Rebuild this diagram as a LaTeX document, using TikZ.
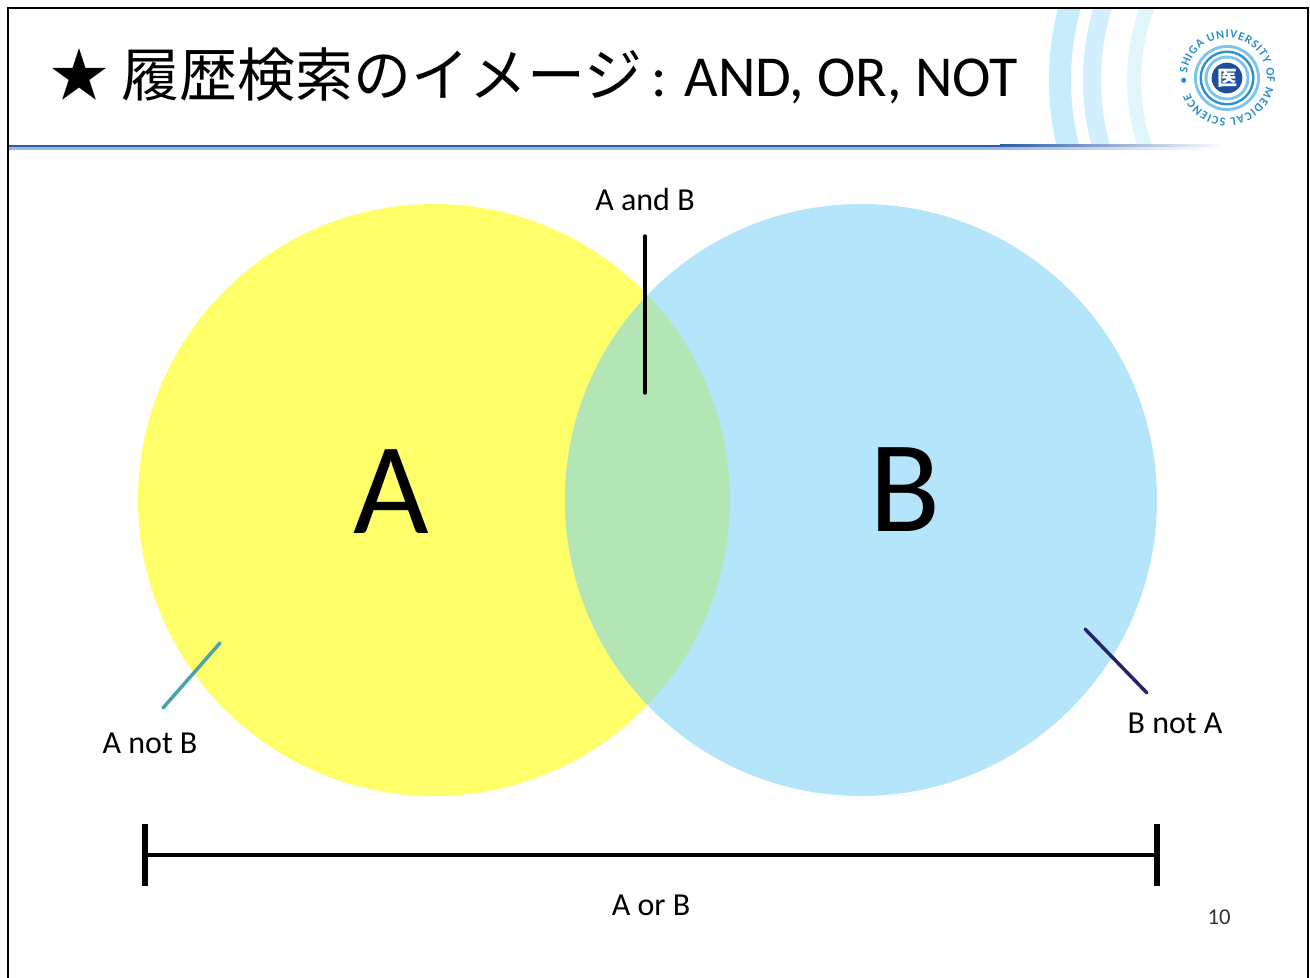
\documentclass[tikz,border=0pt]{standalone}
\usepackage{fontspec}
\setmainfont{Carlito}
\newfontfamily\jpfont{Noto Sans CJK JP}
\usepackage{tikz}
\usetikzlibrary{positioning,decorations.text}

\definecolor{setA}{HTML}{FFFF6A}
\definecolor{setB}{HTML}{B4E5FB}
\definecolor{setAB}{HTML}{B4E5B4}
\definecolor{hdrblue}{HTML}{2B5DA6}
\definecolor{hdrlight}{HTML}{9DB8DE}
\definecolor{leadA}{HTML}{4AA3AC}
\definecolor{leadB}{HTML}{23236E}
\definecolor{logoblue}{HTML}{2C8FD0}
\definecolor{logolight}{HTML}{7CC6EE}
\definecolor{logonavy}{HTML}{1D4F9C}

\begin{document}
\begin{tikzpicture}[x=0.75pt,y=-0.75pt,
	lbl/.style={font=\fontsize{24}{28}\selectfont,inner sep=0pt,anchor=base},
	big/.style={font=\fontsize{98}{110}\selectfont,inner sep=0pt,anchor=base},
	lead/.style={line width=2.6pt,line cap=round},
	tick/.style={line width=4.5pt}]
\useasboundingbox (0,0) rectangle (1310,978);

%put the header on top
\begin{scope}
	\clip (8,8) rectangle (1308,146);
	\foreach \r/\w/\c in {278/22/setB!75,246/18/setB!60,204/14/setB!40}{
		\draw[line width=\w*0.75pt,\c] (1338,80) circle[radius=\r];
	}
\end{scope}
\fill[hdrblue] (8,144.5) rectangle (1000,147);
\fill[hdrlight] (8,147) rectangle (1000,149.5);
\shade[left color=hdrblue,right color=white] (1000,144.5) rectangle (1225,147);
\shade[left color=hdrlight,right color=white] (1000,147) rectangle (1225,149.5);
\node[anchor=base west,inner sep=0pt,font=\fontsize{43.5}{48}\selectfont] (title) at (50,96)
	{{\jpfont ★ 履歴検索のイメージ}\,: AND, OR, NOT};

%put the logo on the right
\begin{scope}[shift={(1227,78)},y=0.75pt]
	\foreach \r/\c in {33/logolight,30/white,27.5/logoblue,25/white,22.5/logolight,19.5/white}{
		\fill[\c] (0,0) circle[radius=\r];
	}
	\node[circle,fill=logonavy,minimum size=23pt,inner sep=0pt,text=white,
		font=\jpfont\bfseries\fontsize{15}{15}\selectfont] (logo) at (0,0) {医};
	\path[decorate,decoration={text along path,text align={fit to path},
		text color=logoblue,text={|\bfseries\fontsize{9}{9}\selectfont|• SHIGA UNIVERSITY OF MEDICAL SCIENCE}}]
		(188:40) arc[start angle=188,end angle=-158,radius=40];
\end{scope}

%put the two sets
\node[circle,fill=setA,minimum size=444pt,inner sep=0pt] (setA) at (434,500) {};
\node[circle,fill=setB,minimum size=444pt,inner sep=0pt] (setB) at (861,500) {};
\begin{scope}
	\clip (434,500) circle[radius=296];
	\fill[setAB] (861,500) circle[radius=296];
\end{scope}
\node[big] (bigA) at (391,533) {A};
\node[big] (bigB) at (905,531) {B};

%labels and their lines
\node[lbl] (andAB) at (645,210) {A and B};
\node[lbl] (notB) at (150,753) {A not B};
\node[lbl] (notA) at (1175,733) {B not A};
\node[lbl] (orAB) at (651,915) {A or B};
\node[lbl,font=\fontsize{17}{20}\selectfont,text=black!80] (page) at (1219,924) {10};

\coordinate (andTop) at (645,236);
\coordinate (andBot) at (645,393);
\coordinate (notBin) at (220,643);
\coordinate (notBout) at (163,708);
\coordinate (notAin) at (1085,629);
\coordinate (notAout) at (1147,693);
\draw[lead,black] (andTop) -- (andBot);
\draw[lead,leadA] (notBin) -- (notBout);
\draw[lead,leadB] (notAin) -- (notAout);

%the bracket below
\coordinate (orL) at (145,855);
\coordinate (orR) at (1157,855);
\draw[line width=3pt] (orL) -- (orR);
\foreach \p in {orL,orR}{
	\draw[tick] (\p) ++(0,-31) -- ++(0,62);
}

\draw[line width=1.5pt] (8,8) rectangle (1308,990);
\end{tikzpicture}
\end{document}
